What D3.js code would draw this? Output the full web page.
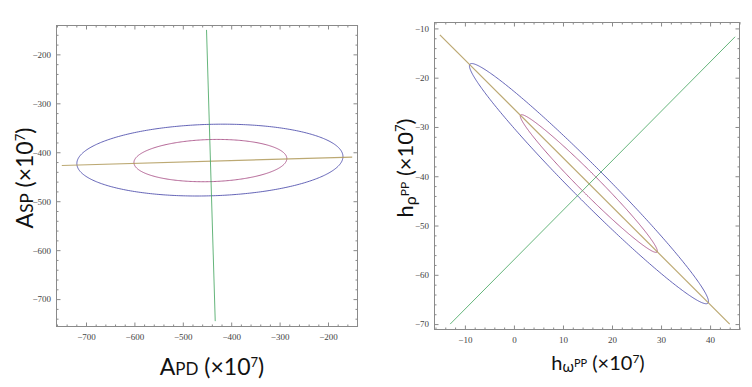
<!DOCTYPE html>
<html><head><meta charset="utf-8">
<script src="https://cdn.jsdelivr.net/npm/d3@7"></script>
<style>
html,body{margin:0;padding:0;background:#fff;}
svg{display:block;}
</style></head>
<body>
<svg id="c" width="752" height="387"></svg>
<script>
// ---------- data ----------
// Left panel: A_PD (x) vs A_SP (y), units of 1e-7
const leftXDomain = [-762, -138];
const leftYDomain = [-757, -140];
const leftXTicks = [-700, -600, -500, -400, -300, -200];
const leftYTicks = [-700, -600, -500, -400, -300, -200];
const leftMinorStep = 20;
// ellipses: [cx, cy, semi-major, semi-minor, rotation in degrees (data space)]
const leftOuterEllipse = [-444, -416, 275, 73, 1.6];
const leftInnerEllipse = [-443, -417, 158, 43, 1.6];
const leftBandLine = [[-750, -427], [-150, -410]];
const leftCrossLine = [[-451, -150], [-433, -745]];

// Right panel: h_omega^PP (x) vs h_rho^PP (y)
const rightXDomain = [-16.3, 46.1];
const rightYDomain = [-71.2, -8.7];
const rightXTicks = [-10, 0, 10, 20, 30, 40];
const rightYTicks = [-70, -60, -50, -40, -30, -20, -10];
const rightMinorStep = 2;
const rightOuterEllipse = [15.3, -41.5, 34.3, 3.4, -45];
const rightInnerEllipse = [15.27, -41.48, 19.66, 1.95, -45];
const rightBandLine = [[-15.1, -11.3], [44.0, -70.0]];
const rightCrossLine = [[-13.0, -70.0], [45.1, -11.7]];

// ---------- drawing ----------
const svg = d3.select("#c");
const colors = {outer: "#4a4aaa", inner: "#a64a82", band: "#b09a5a", cross: "#4aa864"};
const tickFont = "'Liberation Serif', 'DejaVu Serif', serif";

function ellipsePoints(e) {
  const [cx, cy, a, b, deg] = e;
  const t = deg * Math.PI / 180;
  return d3.range(0, 361, 1).map(k => {
    const th = k * Math.PI / 180;
    const u = a * Math.cos(th), v = b * Math.sin(th);
    return [cx + u * Math.cos(t) - v * Math.sin(t), cy + u * Math.sin(t) + v * Math.cos(t)];
  });
}

function panel(opt) {
  const x = d3.scaleLinear().domain(opt.xd).range([opt.l, opt.r]);
  const y = d3.scaleLinear().domain(opt.yd).range([opt.b, opt.t]);
  const g = svg.append("g");
  const line = d3.line().x(d => x(d[0])).y(d => y(d[1]));

  const id = "clip" + opt.name;
  svg.append("clipPath").attr("id", id).append("rect")
    .attr("x", opt.l).attr("y", opt.t).attr("width", opt.r - opt.l).attr("height", opt.b - opt.t);
  const plot = g.append("g").attr("clip-path", `url(#${id})`);

  [["outer", 1], ["inner", 1], ["band", 1.2], ["cross", 1]].forEach(([k, w]) => {
    plot.append("path").attr("d", line(opt[k])).attr("fill", "none")
      .attr("stroke", colors[k]).attr("stroke-width", w).attr("stroke-opacity", 0.85);
  });

  const xd = x.domain(), yd = y.domain();
  const xMinor = d3.range(Math.ceil(xd[0] / opt.minor) * opt.minor, xd[1], opt.minor)
    .filter(v => !opt.xt.includes(v));
  const yMinor = d3.range(Math.ceil(yd[0] / opt.minor) * opt.minor, yd[1], opt.minor)
    .filter(v => !opt.yt.includes(v));

  function axes(axisFn, scale, ticks, size, labels, transform, side) {
    const a = axisFn(scale).tickValues(ticks).tickSize(size).tickPadding(0);
    if (!labels) a.tickFormat("");
    const ag = g.append("g").attr("transform", transform).call(a)
      .attr("font-family", tickFont).attr("font-size", 9);
    ag.select(".domain").remove();
    ag.selectAll(".tick line").attr("stroke", "#8a8a8a").attr("stroke-width", 1);
    if (labels) {
      const tx = ag.selectAll(".tick text").attr("fill", "#444")
        .style("font-family", tickFont).style("font-size", "9px");
      if (side === "bottom") tx.attr("y", 7).attr("dy", "0.71em");
      if (side === "left") tx.attr("x", -5).attr("dy", "0.32em");
    }
    return ag;
  }
  axes(d3.axisBottom, x, opt.xt, -4.5, true, `translate(0,${opt.b})`, "bottom");
  axes(d3.axisBottom, x, xMinor, -2.5, false, `translate(0,${opt.b})`);
  axes(d3.axisTop, x, opt.xt, -4.5, false, `translate(0,${opt.t})`);
  axes(d3.axisTop, x, xMinor, -2.5, false, `translate(0,${opt.t})`);
  axes(d3.axisLeft, y, opt.yt, -4.5, true, `translate(${opt.l},0)`, "left");
  axes(d3.axisLeft, y, yMinor, -2.5, false, `translate(${opt.l},0)`);
  axes(d3.axisRight, y, opt.yt, -4.5, false, `translate(${opt.r},0)`);
  axes(d3.axisRight, y, yMinor, -2.5, false, `translate(${opt.r},0)`);

  g.append("rect").attr("x", opt.l + 0.5).attr("y", opt.t + 0.5)
    .attr("width", opt.r - opt.l - 1).attr("height", opt.b - opt.t - 1)
    .attr("fill", "none").attr("stroke", "#8a8a8a").attr("stroke-width", 1);
  return {x, y, g};
}

panel({name: "L", l: 56, r: 358, t: 25, b: 327, xd: leftXDomain, yd: leftYDomain,
  xt: leftXTicks, yt: leftYTicks, minor: leftMinorStep,
  outer: ellipsePoints(leftOuterEllipse), inner: ellipsePoints(leftInnerEllipse),
  band: leftBandLine, cross: leftCrossLine});
panel({name: "R", l: 434, r: 740, t: 22, b: 330, xd: rightXDomain, yd: rightYDomain,
  xt: rightXTicks, yt: rightYTicks, minor: rightMinorStep,
  outer: ellipsePoints(rightOuterEllipse), inner: ellipsePoints(rightInnerEllipse),
  band: rightBandLine, cross: rightCrossLine});

const titleFont = "Lato, 'Open Sans', sans-serif";
function title(x, y, rot, size, parts) {
  const t = svg.append("text").attr("transform", `translate(${x},${y}) rotate(${rot})`)
    .attr("text-anchor", "middle").style("font-family", titleFont).style("font-size", size + "px").attr("fill", "#111");
  parts.forEach(p => {
    t.append("tspan").text(p[0]).style("font-size", p[1] + "px").attr("dy", p[2]);
  });
}
title(212, 375, 0, 23, [["A", 23, 0], ["PD", 17, 0], [" (×10", 23, 0], ["7", 13, -8], [")", 23, 8]]);
title(33, 178, -90, 23, [["A", 23, 0], ["SP", 17, 0], [" (×10", 23, 0], ["7", 13, -8], [")", 23, 8]]);
title(598, 370, 0, 20, [["h", 20, 0], ["ω", 15, 2], ["PP", 11, -5], [" (×10", 20, 3], ["7", 12, -7], [")", 20, 7]]);
title(413, 168, -90, 22, [["h", 22, 0], ["ρ", 16, 3], ["PP", 12, -7], [" (×10", 22, 4], ["7", 13, -8], [")", 22, 8]]);
</script>
</body></html>
